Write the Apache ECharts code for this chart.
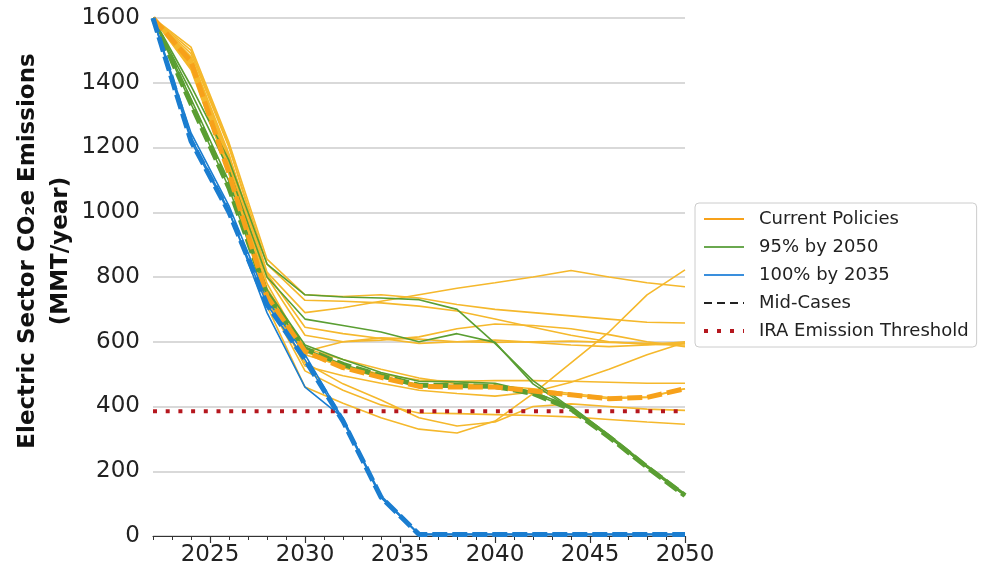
<!DOCTYPE html>
<html>
<head>
<meta charset="utf-8">
<script src="https://cdn.jsdelivr.net/npm/echarts@6/dist/echarts.min.js"></script>
<style>
html,body{margin:0;padding:0;background:#fff;}
#chart{width:1000px;height:579px;}
</style>
</head>
<body>
<div id="chart"></div>
<script>
// ---- data ----
const years = [2022, 2024, 2026, 2028, 2030, 2032, 2034, 2036, 2038, 2040, 2042, 2044, 2046, 2048, 2050];
const xTickLabels = [2025, 2030, 2035, 2040, 2045, 2050];

// Current Policies (thin)
const cp1  = [1600, 1500, 1205, 815, 690, 705, 725, 745, 765, 782, 800, 820, 800, 782, 770];
const cp2  = [1600, 1510, 1215, 855, 745, 740, 745, 735, 715, 700, 690, 680, 670, 660, 658];
const cp3  = [1600, 1490, 1200, 840, 728, 725, 720, 710, 695, 670, 645, 620, 600, 592, 590];
const cp4  = [1600, 1480, 1180, 810, 645, 625, 610, 595, 600, 605, 598, 590, 585, 590, 600];
const cp5  = [1600, 1470, 1170, 800, 620, 600, 605, 615, 640, 655, 650, 640, 622, 600, 585];
const cp6  = [1600, 1440, 1120, 710, 460, 410, 365, 330, 318, 355, 440, 535, 630, 745, 822];
const cp7  = [1600, 1445, 1130, 730, 510, 450, 405, 380, 378, 375, 372, 368, 360, 352, 345];
const cp8  = [1600, 1450, 1140, 740, 535, 470, 420, 365, 340, 352, 400, 408, 400, 392, 388];
const cp9  = [1600, 1460, 1150, 760, 560, 525, 500, 482, 478, 480, 480, 478, 475, 472, 472];
const cp10 = [1600, 1455, 1145, 750, 525, 495, 472, 450, 440, 432, 445, 475, 515, 560, 598];
const cp11 = [1600, 1465, 1155, 765, 580, 545, 515, 488, 470, 465, 455, 440, 428, 430, 455];
const cp12 = [1600, 1475, 1165, 780, 570, 600, 612, 608, 600, 598, 600, 602, 598, 595, 595];
const cpMid = [1600, 1465, 1120, 740, 570, 520, 490, 462, 460, 460, 448, 436, 424, 428, 455];

// 95% by 2050
const g1 = [1600, 1390, 1160, 840, 745, 738, 735, 730, 700, 595, 480, 395, 308, 215, 128];
const g2 = [1600, 1370, 1130, 800, 670, 650, 630, 600, 625, 598, 470, 392, 306, 213, 125];
const g3 = [1600, 1350, 1095, 760, 590, 545, 505, 478, 476, 472, 445, 400, 312, 218, 130];
const gMid = [1600, 1335, 1075, 745, 578, 530, 495, 466, 465, 462, 440, 392, 306, 213, 125];

// 100% by 2035
const b1 = [1600, 1230, 1005, 690, 460, 365, 118, 5, 5, 5, 5, 5, 5, 5, 5];
const b2 = [1600, 1245, 1020, 730, 560, 360, 125, 5, 5, 5, 5, 5, 5, 5, 5];
const bMid = [1600, 1220, 1000, 715, 545, 355, 120, 5, 5, 5, 5, 5, 5, 5, 5];

// IRA threshold
const iraYears = [2022, 2050];
const iraValue = [385, 385];

// ---- styling ----
const YEL = '#f5b82c', ORA = '#f7a11a', GRN = '#5a9e32', BLU = '#1a7dd0', RED = '#b5171e';
const FONT = 'DejaVu Sans';

function pairs(vals, xs) { xs = xs || years; return xs.map((y, i) => [y, vals[i]]); }
function thin(name, vals, color) {
  return { type: 'line', name: name, data: pairs(vals), symbol: 'none', showSymbol: false,
    silent: true, lineStyle: { width: 1.6, color: color }, itemStyle: { color: color } };
}
function mid(vals, color) {
  return { type: 'line', name: 'mid-' + color, data: pairs(vals), symbol: 'none', showSymbol: false,
    silent: true, lineStyle: { width: 5, color: color, type: [15, 5], cap: 'butt' } };
}

const series = [];
[cp1, cp2, cp3, cp4, cp5, cp6, cp7, cp8, cp9, cp10, cp11, cp12, cpMid].forEach(v => series.push(thin('Current Policies', v, YEL)));
[g1, g2, g3, gMid].forEach(v => series.push(thin('95% by 2050', v, GRN)));
[b1, b2, bMid].forEach(v => series.push(thin('100% by 2035', v, BLU)));
series.push({ type: 'line', name: 'IRA Emission Threshold', data: pairs(iraValue, iraYears), symbol: 'none', silent: true,
  lineStyle: { width: 4, color: RED, type: [4, 8.7], cap: 'butt' } });
series.push({ type: 'line', name: 'Mid-Cases', data: [], symbol: 'none', lineStyle: { width: 2, color: '#222', type: [8, 5] } });
series.push(mid(gMid, GRN));
series.push(mid(cpMid, ORA));
series.push(mid(bMid, BLU));

const allYears = [];
for (let y = 2022; y <= 2050; y++) allYears.push(y);

const noSym = { color: 'rgba(0,0,0,0)', opacity: 0, borderWidth: 0 };

const option = {
  animation: false,
  backgroundColor: '#fff',
  grid: { left: 153, right: 315, top: 18, bottom: 43, containLabel: false, outerBoundsMode: 'none' },
  xAxis: [
    { type: 'value', min: 2022, max: 2050,
      axisLine: { show: true, lineStyle: { color: '#333', width: 1.2 } },
      axisTick: { show: true, customValues: xTickLabels, length: 7, lineStyle: { color: '#333', width: 1.2 } },
      axisLabel: { customValues: xTickLabels, fontSize: 23, fontFamily: FONT, color: '#222', margin: 8,
        formatter: v => String(v) },
      splitLine: { show: false } },
    { type: 'value', min: 2022, max: 2050, position: 'bottom',
      axisLine: { show: false },
      axisTick: { show: true, customValues: allYears, length: 4, lineStyle: { color: '#333', width: 1 } },
      axisLabel: { show: false }, splitLine: { show: false } }
  ],
  yAxis: {
    type: 'value', min: 0, max: 1600, interval: 200,
    axisLine: { show: false }, axisTick: { show: false },
    axisLabel: { fontSize: 23, fontFamily: FONT, color: '#222', margin: 13, formatter: v => String(v) },
    splitLine: { show: true, lineStyle: { color: '#cccccc', width: 1.5 } },
    name: 'Electric Sector CO\u2082e Emissions\n(MMT/year)',
    nameLocation: 'middle', nameRotate: 90, nameGap: 75, nameMoveOverlap: false,
    nameTextStyle: { fontSize: 23, fontWeight: 'bold', fontFamily: FONT, color: '#111', lineHeight: 33,
      align: 'center', padding: [0, 0, 0, 52] }
  },
  legend: {
    orient: 'vertical', left: 695, top: 203,
    padding: [7, 8, 7, 7], itemWidth: 40, itemHeight: 14, itemGap: 10,
    backgroundColor: '#fff', borderColor: '#cccccc', borderWidth: 1, borderRadius: 4,
    selectedMode: false,
    itemStyle: noSym,
    textStyle: { fontSize: 18, fontFamily: FONT, color: '#222', padding: [0, 0, 0, 10] },
    data: [
      { name: 'Current Policies', itemStyle: noSym, lineStyle: { color: ORA, width: 2, type: 'solid' } },
      { name: '95% by 2050', itemStyle: noSym, lineStyle: { color: '#6aa84f', width: 2, type: 'solid' } },
      { name: '100% by 2035', itemStyle: noSym, lineStyle: { color: '#3a8fdd', width: 2, type: 'solid' } },
      { name: 'Mid-Cases', itemStyle: noSym, lineStyle: { color: '#222', width: 2, type: [8, 5] } },
      { name: 'IRA Emission Threshold', itemStyle: noSym, lineStyle: { color: RED, width: 4, type: [4, 9], cap: 'butt' } }
    ]
  },
  series: series.map(s => Object.assign({ xAxisIndex: 0 }, s))
};

const chart = echarts.init(document.getElementById('chart'), null, { renderer: 'canvas' });
chart.setOption(option);
</script>
</body>
</html>
